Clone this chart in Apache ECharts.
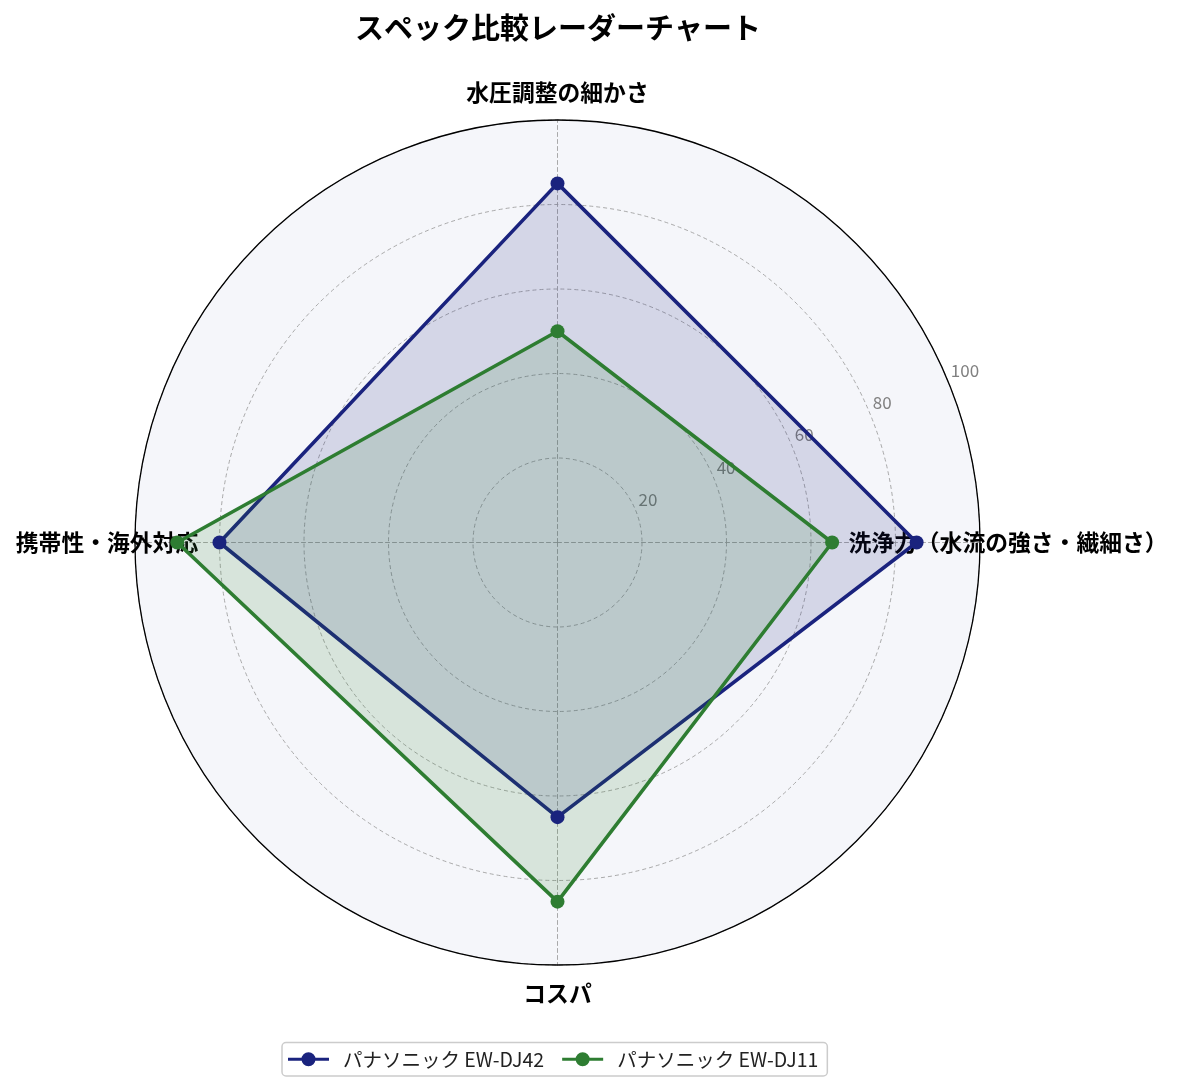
<!DOCTYPE html>
<html>
<head>
<meta charset="utf-8">
<script src="https://cdn.jsdelivr.net/npm/echarts@6/dist/echarts.min.js"></script>
<style>
html,body{margin:0;padding:0;background:#fff;}
#chart{width:1185px;height:1091px;}
</style>
</head>
<body>
<div id="chart"></div>
<script>
const categories = ['洗浄力（水流の強さ・繊細さ）', '水圧調整の細かさ', '携帯性・海外対応', 'コスパ'];
const seriesNames = ['パナソニック EW-DJ42', 'パナソニック EW-DJ11'];
const dj42Values = [85, 85, 80, 65];
const dj11Values = [65, 50, 90, 85];
const radialTicks = [20, 40, 60, 80, 100];
const titleText = 'スペック比較レーダーチャート';

const FONT = '"Noto Sans CJK JP", "Noto Sans", sans-serif';
const colors = ['#1a237e', '#2e7d32'];
const CENTER = [557.5, 542.5];
const RADIUS = 422.5;
const legendIcon = 'path://M0,5.5H41V8.5H0Z M20.5,0A7,7 0 1 1 20.49,0Z';

const chart = echarts.init(document.getElementById('chart'), null, {renderer: 'canvas'});
chart.setOption({
  backgroundColor: '#ffffff',
  textStyle: {fontFamily: FONT},
  title: {
    text: titleText,
    left: 558,
    top: 13,
    padding: 0,
    textAlign: 'center',
    textStyle: {fontFamily: FONT, fontSize: 29, fontWeight: 'bold', color: '#000'}
  },
  legend: {
    data: seriesNames.map(n => ({name: n, icon: legendIcon})),
    left: 282,
    bottom: 15,
    itemWidth: 41,
    itemHeight: 14,
    itemGap: 18,
    padding: [7, 9, 7, 6],
    borderColor: '#cccccc',
    borderWidth: 1.5,
    borderRadius: 4,
    textStyle: {fontFamily: FONT, fontSize: 19.5, color: '#222', padding: [0, 0, 0, 9]}
  },
  radar: {
    center: CENTER,
    radius: RADIUS,
    startAngle: 0,
    shape: 'circle',
    splitNumber: 5,
    z: 0,
    indicator: categories.map(c => ({name: c, min: 0, max: 100})),
    nameGap: 28,
    axisName: {
      color: '#000',
      fontFamily: FONT,
      fontSize: 22.8,
      fontWeight: 'bold',
      align: 'center',
      verticalAlign: 'middle'
    },
    axisLine: {lineStyle: {color: '#a0a0a0', width: 0.9, type: [4, 3]}},
    axisTick: {show: false},
    axisLabel: {show: false},
    splitLine: {lineStyle: {color: '#a0a0a0', width: 0.9, type: [4, 3]}},
    splitArea: {show: true, areaStyle: {color: ['#f5f6fa']}}
  },
  polar: {center: CENTER, radius: RADIUS},
  angleAxis: {
    type: 'value',
    min: 0,
    max: 360,
    startAngle: 22.5,
    z: 1,
    axisLine: {show: true, lineStyle: {color: '#000', width: 1.3}},
    axisTick: {show: false},
    axisLabel: {show: false},
    splitLine: {show: false}
  },
  radiusAxis: {
    type: 'value',
    min: 0,
    max: 100,
    interval: 20,
    z: 1,
    axisLine: {show: false},
    axisTick: {show: false},
    splitLine: {show: false},
    axisLabel: {
      showMinLabel: false,
      margin: 0,
      align: 'left',
      verticalAlign: 'bottom',
      color: '#808080',
      fontSize: 17,
      fontFamily: FONT,
      padding: [0, 0, 2, 3],
      formatter: v => (radialTicks.indexOf(v) >= 0 ? String(v) : '')
    }
  },
  series: [
    {
      type: 'radar',
      name: seriesNames[0],
      symbol: 'circle',
      symbolSize: 14,
      itemStyle: {color: colors[0]},
      lineStyle: {color: colors[0], width: 3.6},
      areaStyle: {color: colors[0], opacity: 0.15},
      data: [{name: seriesNames[0], value: dj42Values}]
    },
    {
      type: 'radar',
      name: seriesNames[1],
      symbol: 'circle',
      symbolSize: 14,
      itemStyle: {color: colors[1]},
      lineStyle: {color: colors[1], width: 3.6},
      areaStyle: {color: colors[1], opacity: 0.15},
      data: [{name: seriesNames[1], value: dj11Values}]
    }
  ]
});
</script>
</body>
</html>
